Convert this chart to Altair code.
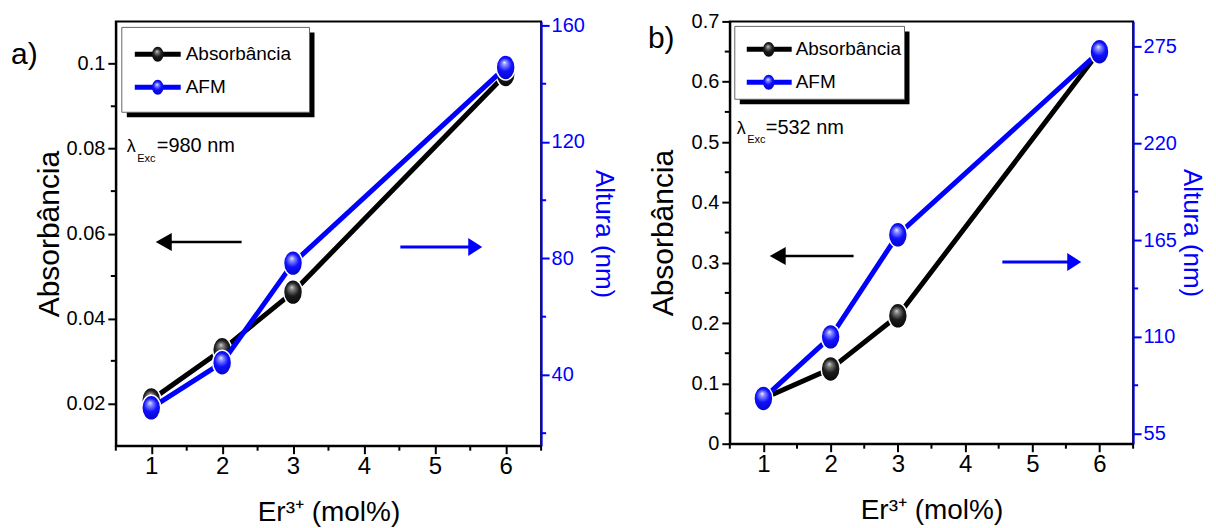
import altair as alt
import pandas as pd

# ---------------- data ----------------
er = [1, 2, 3, 6]
abs_a = [0.0208, 0.0326, 0.0462, 0.0975]
afm_a = [28.7, 44.2, 78.4, 145.6]
abs_b = [0.075, 0.124, 0.212, 0.651]
afm_b = [75.0, 110.0, 168.0, 272.0]

x_ticks = [1, 2, 3, 4, 5, 6]
x_minor = [0.5, 1.5, 2.5, 3.5, 4.5, 5.5, 6.5]
a_left_ticks = [0.02, 0.04, 0.06, 0.08, 0.1]
a_left_minor = [0.03, 0.05, 0.07, 0.09]
a_right_ticks = [40, 80, 120, 160]
a_right_minor = [20, 60, 100, 140]
b_left_ticks = [0, 0.1, 0.2, 0.3, 0.4, 0.5, 0.6, 0.7]
b_left_minor = [0.05, 0.15, 0.25, 0.35, 0.45, 0.55, 0.65]
b_right_ticks = [55, 110, 165, 220, 275]
b_right_minor = [82.5, 137.5, 192.5, 247.5]
legend_labels = ["Absorbância", "AFM"]

FONT = "Liberation Sans, Arial, sans-serif"
BLUE = "#0000ff"

ELL = ("M0,-1C0.42,-1,0.76,-0.552,0.76,0C0.76,0.552,0.42,1,0,1"
       "C-0.42,1,-0.76,0.552,-0.76,0C-0.76,-0.552,-0.42,-1,0,-1Z")
HEAD_L = "M-0.8,0L0.8,-0.9L0.8,0.9Z"
HEAD_R = "M0.7,0L-0.7,-0.9L-0.7,0.9Z"


def grad(stops):
    return alt.RadialGradient(
        gradient="radial",
        stops=[alt.GradientStop(offset=o, color=c) for o, c in stops],
        x1=0.45, y1=0.3, r1=0, x2=0.5, y2=0.5, r2=0.6,
    )


G_BLACK = grad([(0, "#d8d8d8"), (0.15, "#808080"), (0.45, "#1c1c1c"), (1, "#000000")])
G_BLUE = grad([(0, "#f0f0ff"), (0.15, "#8a90ff"), (0.45, "#1010ff"), (1, "#0000b0")])

one = pd.DataFrame({"t": [0]})


def ball(gr, size):
    return alt.Chart(one).mark_point(shape=ELL, size=size, filled=True, fill=gr,
                                     opacity=1, strokeWidth=0)


def panel(abs_v, afm_v, W, H, ldom, lticks, lminor, rdom, rticks, rminor,
          leg, lam, arrows, tag, rtitle_x):
    df = pd.DataFrame({"x": er, "a": abs_v, "h": afm_v})

    xscale = alt.Scale(domain=[0.5, 6.5], nice=False, zero=False)
    xaxis = alt.Axis(values=x_ticks, format="d", title="Er³⁺ (mol%)",
                     orient="bottom", grid=False,
                     labelFont=FONT, labelFontSize=24, labelColor="black",
                     labelPadding=1, tickSize=8, tickWidth=2, tickColor="black",
                     domainColor="black", domainWidth=2,
                     titleFont=FONT, titleFontSize=28, titleFontWeight="normal",
                     titleColor="black", titleX=W / 2, titleY=75,
                     titleAlign="center", titleBaseline="alphabetic")
    X = alt.X("x:Q", scale=xscale, axis=xaxis)

    lscale = alt.Scale(domain=ldom, nice=False, zero=False)
    laxis = alt.Axis(values=lticks, labelExpr="format(datum.value, '~g')",
                     orient="left", grid=False, title="Absorbância",
                     labelFont=FONT, labelFontSize=20, labelColor="black",
                     labelPadding=3, tickSize=8, tickWidth=2, tickColor="black",
                     domainColor="black", domainWidth=2,
                     titleFont=FONT, titleFontSize=30, titleFontWeight="normal",
                     titleColor="black", titleX=-66, titleY=H / 2, titleAngle=270,
                     titleAlign="center", titleBaseline="middle")
    YL = alt.Y("a:Q", scale=lscale, axis=laxis)

    rscale = alt.Scale(domain=rdom, nice=False, zero=False)
    raxis = alt.Axis(values=rticks, orient="right", grid=False, title="Altura (nm)",
                     format="d",
                     labelFont=FONT, labelFontSize=20, labelColor=BLUE,
                     labelPadding=2, tickSize=8, tickWidth=2, tickColor=BLUE,
                     domainColor=BLUE, domainWidth=2,
                     titleFont=FONT, titleFontSize=26, titleFontWeight="normal",
                     titleColor=BLUE, titleX=rtitle_x, titleY=H / 2, titleAngle=90,
                     titleAlign="center", titleBaseline="middle")
    YR = alt.Y("h:Q", scale=rscale, axis=raxis)

    # ---- left (Absorbância) group ----
    black_line = alt.Chart(df).mark_line(color="black", strokeWidth=5).encode(x=X, y=YL)
    black_pts = alt.Chart(df).mark_point(shape=ELL, size=625, filled=True, fill=G_BLACK,
                                         opacity=1, stroke="white", strokeWidth=1.5
                                         ).encode(x=X, y=YL)
    lmin = alt.Chart(pd.DataFrame({"a": lminor})).mark_rule(
        color="black", strokeWidth=2).encode(y=YL, x=alt.value(-5), x2=alt.value(0))
    xmin = alt.Chart(pd.DataFrame({"x": x_minor})).mark_rule(
        color="black", strokeWidth=2).encode(x=X, y=alt.value(H), y2=alt.value(H + 5))

    deco = []
    # legend box with shadow
    (bx0, by0, bx1, by1, row1, row2, lx0, lx1, bxc, tx) = leg
    deco.append(alt.Chart(one).mark_rect(color="black").encode(
        x=alt.value(bx0 + 5), x2=alt.value(bx1 + 5),
        y=alt.value(by0 + 5), y2=alt.value(by1 + 5)))
    deco.append(alt.Chart(one).mark_rect(fill="white", stroke="#666666", strokeWidth=1).encode(
        x=alt.value(bx0), x2=alt.value(bx1), y=alt.value(by0), y2=alt.value(by1)))
    for ry, col, gr, lab in [(row1, "black", G_BLACK, legend_labels[0]),
                             (row2, BLUE, G_BLUE, legend_labels[1])]:
        deco.append(alt.Chart(one).mark_rule(color=col, strokeWidth=5).encode(
            x=alt.value(lx0), x2=alt.value(lx1), y=alt.value(ry)))
        deco.append(ball(gr, 225).encode(x=alt.value(bxc), y=alt.value(ry)))
        deco.append(alt.Chart(one).mark_text(
            text=lab, font=FONT, fontSize=19, color="black",
            align="left", baseline="middle").encode(x=alt.value(tx), y=alt.value(ry)))

    # lambda annotation
    (lamx, lamy, excx, excy, eqx, eqtxt) = lam
    deco.append(alt.Chart(one).mark_text(text="λ", font=FONT, fontSize=18, color="black",
                                         align="left", baseline="alphabetic").encode(
        x=alt.value(lamx), y=alt.value(lamy)))
    deco.append(alt.Chart(one).mark_text(text="Exc", font=FONT, fontSize=11, color="black",
                                         align="left", baseline="alphabetic").encode(
        x=alt.value(excx), y=alt.value(excy)))
    deco.append(alt.Chart(one).mark_text(text=eqtxt, font=FONT, fontSize=20, color="black",
                                         align="left", baseline="alphabetic").encode(
        x=alt.value(eqx), y=alt.value(lamy)))

    # arrows
    (k_tip, k_end, k_y, b_start, b_tip, b_y) = arrows
    deco.append(alt.Chart(one).mark_rule(color="black", strokeWidth=2.5).encode(
        x=alt.value(k_tip + 8), x2=alt.value(k_end), y=alt.value(k_y)))
    deco.append(alt.Chart(one).mark_point(shape=HEAD_L, size=400, filled=True, color="black",
                                          opacity=1).encode(
        x=alt.value(k_tip + 8), y=alt.value(k_y)))
    deco.append(alt.Chart(one).mark_rule(color=BLUE, strokeWidth=3).encode(
        x=alt.value(b_start), x2=alt.value(b_tip - 7), y=alt.value(b_y)))
    deco.append(alt.Chart(one).mark_point(shape=HEAD_R, size=400, filled=True, color=BLUE,
                                          opacity=1).encode(
        x=alt.value(b_tip - 7), y=alt.value(b_y)))

    # panel tag
    (tgx, tgy, tgtxt) = tag
    deco.append(alt.Chart(one).mark_text(text=tgtxt, font=FONT, fontSize=30, color="black",
                                         align="left", baseline="middle").encode(
        x=alt.value(tgx), y=alt.value(tgy)))

    left = alt.layer(black_line, lmin, xmin, *deco, black_pts)

    # ---- right (AFM) group ----
    blue_line = alt.Chart(df).mark_line(color=BLUE, strokeWidth=5).encode(x=X, y=YR)
    blue_pts = alt.Chart(df).mark_point(shape=ELL, size=625, filled=True, fill=G_BLUE,
                                        opacity=1, stroke="white", strokeWidth=1.5
                                        ).encode(x=X, y=YR)
    rmin = alt.Chart(pd.DataFrame({"h": rminor})).mark_rule(
        color=BLUE, strokeWidth=2).encode(y=YR, x=alt.value(W), x2=alt.value(W + 5))
    right = alt.layer(blue_line, rmin, blue_pts)

    return alt.layer(left, right).resolve_scale(y="independent").properties(
        width=W, height=H)


pa = panel(abs_a, afm_a, 426, 425,
           [0.01, 0.11], a_left_ticks, a_left_minor,
           [15.7, 161.4], a_right_ticks, a_right_minor,
           leg=(6, 6, 194, 91, 33, 66, 19, 65, 42, 70),
           lam=(11, 131, 21.5, 141, 41, "=980 nm"),
           arrows=(40, 126, 221, 285, 367, 226),
           tag=(-105, 34, "a)"), rtitle_x=62)

pb = panel(abs_b, afm_b, 404, 423,
           [0, 0.7], b_left_ticks, b_left_minor,
           [49.3, 289.2], b_right_ticks, b_right_minor,
           leg=(5, 5, 175, 78, 28, 61, 17, 62, 39, 66),
           lam=(7, 113, 17.5, 122, 36, "=532 nm"),
           arrows=(40, 124, 235, 273, 352, 241),
           tag=(-82, 18, "b)"), rtitle_x=58)

chart = alt.hconcat(pa, pb, spacing=189, bounds="flush").properties(
    padding={"left": 2, "top": 2, "right": 3, "bottom": 0}
).configure_view(stroke="black", strokeWidth=2)

chart.save("out.html", embed_options={"renderer": "svg", "actions": False})
